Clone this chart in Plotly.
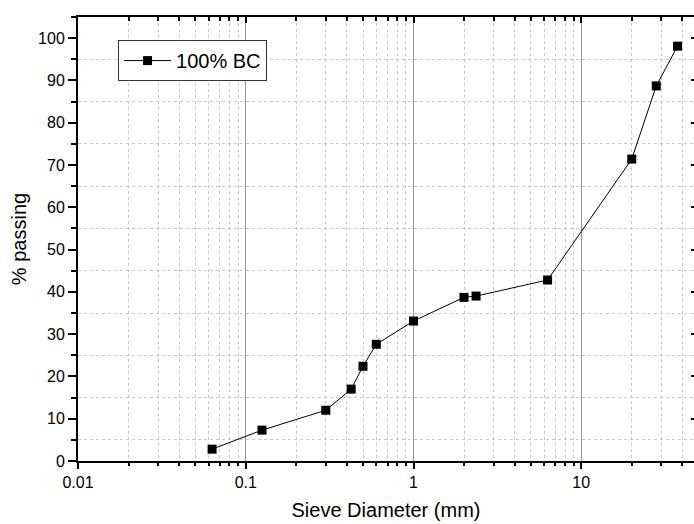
import plotly.graph_objects as go
import numpy as np

sieve_mm = [0.063, 0.125, 0.3, 0.425, 0.5, 0.6, 1.0, 2.0, 2.36, 6.3, 20.0, 28.0, 37.5]
passing = [2.8, 7.3, 12.0, 17.0, 22.4, 27.6, 33.1, 38.7, 39.0, 42.8, 71.4, 88.7, 98.1]
series_name = "100% BC"
x_ticks = [0.01, 0.1, 1, 10]
x_ticklabels = ["0.01", "0.1", "1", "10"]

minor_vals = [m * 10.0 ** k for k in range(-2, 2) for m in range(2, 10)]
FONT = "Arial, Liberation Sans, sans-serif"
xr = [-2, np.log10(47)]
yr = [0, 105]

fig = go.Figure()
fig.add_trace(go.Scatter(
    x=sieve_mm, y=passing, mode="lines+markers", name=series_name,
    line=dict(color="black", width=1),
    marker=dict(symbol="square", size=9, color="black"),
))
# invisible helper trace for mirrored axes
fig.add_trace(go.Scatter(
    x=sieve_mm, y=passing, xaxis="x2", yaxis="y2", mode="markers",
    marker=dict(opacity=0), showlegend=False, hoverinfo="skip",
))

fig.update_layout(
    width=694, height=524,
    margin=dict(l=78, r=0, t=17, b=63),
    paper_bgcolor="white", plot_bgcolor="white",
    font=dict(family=FONT, size=16, color="black"),
    showlegend=True,
    legend=dict(
        x=0.065, y=0.948, xanchor="left", yanchor="top",
        bgcolor="white", bordercolor="#333", borderwidth=1,
        font=dict(size=20, family=FONT),
        itemwidth=47, tracegroupgap=0,
    ),
    xaxis=dict(
        type="log", range=xr,
        title=dict(text="Sieve Diameter (mm)", font=dict(size=20), standoff=13),
        tickvals=x_ticks, ticktext=x_ticklabels,
        ticks="outside", ticklen=6, tickwidth=1.5, tickcolor="black",
        showline=True, linecolor="black", linewidth=2,
        showgrid=True, gridcolor="#9a9a9a", gridwidth=1,
        minor=dict(tickvals=minor_vals, ticks="outside", ticklen=3, tickcolor="black",
                   showgrid=True, gridcolor="#c8c8c8", griddash="dot", gridwidth=1),
        zeroline=False,
    ),
    yaxis=dict(
        range=yr, dtick=10, tick0=0,
        title=dict(text="% passing", font=dict(size=20), standoff=6),
        ticks="outside", ticklen=8, tickwidth=1.5, tickcolor="black",
        showline=True, linecolor="black", linewidth=2,
        showgrid=False,
        minor=dict(dtick=5, tick0=5, ticks="outside", ticklen=5, tickcolor="black",
                   showgrid=True, gridcolor="#c8c8c8", griddash="dot", gridwidth=1),
        zeroline=False,
    ),
    xaxis2=dict(
        type="log", range=xr, overlaying="x", side="top",
        tickvals=x_ticks, showticklabels=False,
        ticks="inside", ticklen=6, tickwidth=1.5, tickcolor="black",
        showline=True, linecolor="black", linewidth=1.5, showgrid=False,
        minor=dict(tickvals=minor_vals, ticks="inside", ticklen=4, tickcolor="black", showgrid=False),
        zeroline=False,
    ),
    yaxis2=dict(
        range=yr, overlaying="y", side="right", dtick=10, tick0=0,
        showticklabels=False,
        ticks="inside", ticklen=3, tickwidth=1.5, tickcolor="black",
        showline=False, showgrid=False,
        zeroline=False,
    ),
)

fig.write_html("out.html")
